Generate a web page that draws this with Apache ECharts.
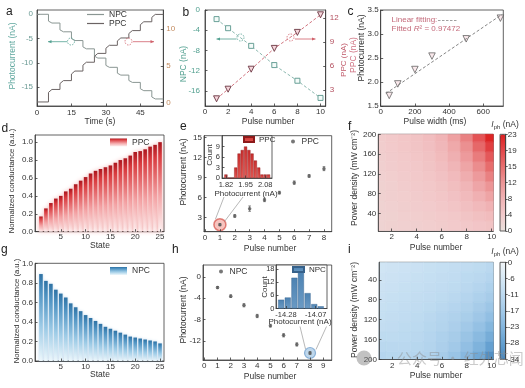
<!DOCTYPE html>
<html><head><meta charset="utf-8">
<script src="https://cdn.jsdelivr.net/npm/echarts@6/dist/echarts.min.js"></script>
<style>html,body{margin:0;padding:0;background:#fff}#c{width:525px;height:388px}</style>
</head><body><div id="c"></div>
<script>
// ================= DATA =================
// (a) time traces
const aTime = [0,5, 5,6.5,10, 10,11.5,15, 15,16.5,20, 20,21.5,25, 25,26.5,30, 30,31.5,35, 35,36.5,40, 40,41.5,45, 45,46.5,50, 50,51.5,55];
const aNPC  = [0,0, -1.4,-1.8,-1.8, -3.2,-3.6,-3.6, -5.0,-5.4,-5.4, -6.7,-7.1,-7.1, -8.6,-9.0,-9.0, -10.5,-10.9,-10.9, -12.1,-12.5,-12.5, -13.6,-14.0,-14.0, -15.3,-15.7,-15.7, -17.0,-17.4,-17.4];
const aPPC  = [0.1,0.1, 1.4,1.8,1.8, 2.6,3.0,3.0, 3.9,4.3,4.3, 5.1,5.5,5.5, 6.3,6.7,6.7, 7.4,7.8,7.8, 8.4,8.8,8.8, 9.4,9.8,9.8, 10.6,11.0,11.0, 11.6,12.0,12.0];
const aXTicks = [0,15,30,45];
const aYLTicks = [-15,-10,-5,0];
const aYRTicks = [0,5,10];
// (b)
const bPulse = [1,2,4,6,8,10];
const bNPC = [-1.8,-3.6,-7.1,-10.9,-14.0,-17.4];
const bPPC = [1.9,3.1,5.6,8.2,10.2,12.4];
const bXTicks = [0,2,4,6,8,10];
const bYLTicks = [-16,-12,-8,-4,0];
const bYRTicks = [3,6,9,12];
// (c)
const cWidth = [50,100,200,300,500,700];
const cPPC = [1.72,1.96,2.26,2.54,2.90,3.33];
const cFitX = [30,710];
const cFitY = [1.76,3.41];
const cXTicks = [0,200,400,600];
const cYTicks = [1.5,2.0,2.5,3.0,3.5];
// (d)/(g)
const dState = [1,2,3,4,5,6,7,8,9,10,11,12,13,14,15,16,17,18,19,20,21,22,23,24,25];
const dPPC = [0.17,0.26,0.32,0.37,0.40,0.45,0.48,0.53,0.57,0.61,0.65,0.68,0.70,0.72,0.74,0.77,0.80,0.82,0.85,0.89,0.90,0.92,0.95,0.97,1.00];
const gNPC = [0.89,0.82,0.79,0.73,0.69,0.65,0.59,0.55,0.51,0.47,0.44,0.41,0.38,0.35,0.33,0.31,0.29,0.27,0.25,0.24,0.23,0.22,0.21,0.20,0.18];
const dXTicks = [5,10,15,20,25];
const dYTicks = [0,0.2,0.4,0.6,0.8,1.0];
// (e)
const ePulse = [1,2,3,4,5,6,7,8];
const ePPC = [1.9,3.2,4.3,5.6,6.7,8.2,9.2,10.3];
const eErr = [0.15,0.2,0.4,0.25,0.2,0.25,0.2,0.3];
const eXTicks = [0,1,2,3,4,5,6,7,8];
const eYTicks = [3,6,9,12,15];
const eHistX = [1.820,1.842,1.863,1.885,1.907,1.928,1.950,1.972,1.993,2.015,2.037,2.058,2.080,2.102];
const eHistN = [1,0,0,3,7,8,9,8,7,5,3,1,1,1];
const eiXTicks = [1.82,1.95,2.08];
const eiYTicks = [0,3,6,9];
// (h)
const hPulse = [1,2,3,4,5,6,7,8];
const hNPC = [-2.0,-3.6,-5.3,-7.3,-9.1,-10.9,-12.6,-14.2];
const hErr = [0.2,0.25,0.3,0.3,0.25,0.3,0.3,0.25];
const hXTicks = [0,1,2,3,4,5,6,7,8,9];
const hYTicks = [-12,-8,-4,0];
const hHistX = [-14.314,-14.267,-14.220,-14.174,-14.127,-14.080,-14.034];
const hHistN = [4,5,14,17,7,2,1];
const hiXTicks = [-14.28,-14.07];
const hiYTicks = [0,6,12,18];
// (f)/(i) maps: rows = power density, columns = pulse number
const mapPulse = [1,2,3,4,5,6,7,8,9,10];
const mapPower = [15,35,55,75,95,115,135,155,175,195];
const fI = [
 [2.3,2.6,2.8,3.0,3.2,3.5,3.8,4.2,4.6,5.0],
 [2.4,2.7,3.0,3.2,3.5,3.8,4.2,4.8,5.5,6.2],
 [2.5,2.8,3.1,3.4,3.7,4.1,4.7,5.6,6.7,7.8],
 [2.6,2.9,3.2,3.6,4.0,4.5,5.3,6.5,8.0,9.6],
 [2.7,3.0,3.4,3.8,4.2,4.9,5.9,7.4,9.4,11.5],
 [2.8,3.2,3.6,4.0,4.5,5.3,6.5,8.4,10.8,13.5],
 [3.0,3.4,3.8,4.2,4.8,5.8,7.3,9.5,12.3,15.5],
 [3.1,3.6,4.0,4.5,5.2,6.4,8.2,10.8,14.0,17.5],
 [3.3,3.8,4.3,4.8,5.6,7.0,9.0,12.0,16.0,20.0],
 [3.5,4.0,4.5,5.0,6.0,7.5,10.0,13.5,18.0,22.5]
];
const iI = [
 [-7,-7.5,-8,-8.5,-9,-9.5,-10,-10.5,-11,-12],
 [-7.5,-8,-8.5,-9,-9.5,-10,-10.5,-11.5,-12,-13],
 [-8,-8.5,-9,-9.5,-10,-10.5,-11,-12,-13,-14.5],
 [-8.5,-9,-9.5,-10,-10.5,-11,-12,-13,-14.5,-16],
 [-9,-9.5,-10,-10.5,-11,-12,-13,-14,-16,-18],
 [-9.5,-10,-10.5,-11,-12,-13,-14,-15.5,-17.5,-20],
 [-10,-10.5,-11,-11.5,-12.5,-13.5,-15,-17,-19.5,-22.5],
 [-11,-11,-11.5,-12,-13,-14.5,-16,-18.5,-21.5,-25],
 [-12,-12,-12,-12.5,-13.5,-15,-17,-20,-23.5,-28],
 [-13,-12.5,-12.5,-13,-14,-16,-18.5,-22,-26,-32]
];
const mapXTicks = [2,4,6,8,10];
const mapYTicks = [40,80,120,160,200];
const fCbTicks = [0,3.83,7.67,11.5,15.33,19.17,23];
const iCbTicks = [0,-5.67,-11.33,-17,-22.67,-28.33,-34];

// ================= BUILD =================
const F = '"Liberation Sans", Arial, sans-serif';
const INK = '#333';
const TEAL = '#52a090';
const ROSE = '#c05a6a';
const grid = [], xAxis = [], yAxis = [], series = [], legend = [], visualMap = [], graphic = [];

function G(l,t,r,b,extra){
  grid.push(Object.assign({left:l, top:t, width:r-l, height:b-t, show:true, borderColor:'#3a3a3a', borderWidth:0.8,
    backgroundColor:'rgba(0,0,0,0)', containLabel:false, outerBoundsMode:'none'}, extra||{}));
  return grid.length-1;
}
function ax(gi,pos,min,max,ticks,o){
  o=o||{};
  return {gridIndex:gi, type:'value', position:pos, min, max, inverse:!!o.inverse, z:o.z||2,
    axisLine:{show:true, onZero:false, lineStyle:{color:'#3a3a3a', width:0.8}},
    axisTick:{show:true, inside:o.out?false:true, length:o.tl||2.5, customValues:ticks, lineStyle:{color:'#3a3a3a', width:0.8}},
    axisLabel:{show:true, customValues:ticks, margin:(o.margin!=null?o.margin:2), fontSize:o.fs||8, color:o.color||INK, fontFamily:F, formatter:o.fmt},
    splitLine:{show:false}, minorTick:{show:false}, minorSplitLine:{show:false}};
}
function X(gi,min,max,ticks,o){ xAxis.push(ax(gi,(o&&o.pos)||'bottom',min,max,ticks,o)); return xAxis.length-1; }
function Y(gi,min,max,ticks,o){ yAxis.push(ax(gi,(o&&o.pos)||'left',min,max,ticks,o)); return yAxis.length-1; }
function XH(gi){ xAxis.push({gridIndex:gi, type:'value', min:0, max:1, show:false}); return xAxis.length-1; }
function S(s){ series.push(Object.assign({animation:false, silent:true}, s)); return series.length-1; }
const pairs = (xs,ys)=>xs.map((x,i)=>[x,ys[i]]);
const nm = n=>n.split('_')[0];
function LG(o){ legend.push(Object.assign({orient:'vertical', padding:0, selectedMode:false, formatter:nm,
  textStyle:{fontSize:8.5, color:INK, fontFamily:F}}, o)); }

function T(x,y,text,o){ o=o||{};
  graphic.push({type:'text', x, y, rotation:o.rot||0, silent:true, z:50,
    style:{text, fontSize:o.fs||8.5, fontFamily:o.ff||F, fill:o.c||INK, align:o.align||'center', verticalAlign:o.va||'middle', fontStyle:o.st||'normal', rich:o.rich}});
}
function Ln(x1,y1,x2,y2,c,w,dash){ graphic.push({type:'line', silent:true, z:50, shape:{x1,y1,x2,y2}, style:{stroke:c, lineWidth:w||0.8, lineDash:dash||null}}); }
function arrow(x1,y,x2,c){ Ln(x1,y,x2,y,c,0.8); const d=x2>x1?1:-1;
  graphic.push({type:'polygon', silent:true, z:50, shape:{points:[[x2,y],[x2-d*3.5,y-1.6],[x2-d*3.5,y+1.6]]}, style:{fill:c}}); }
function dcirc(cx,cy,r,c){ graphic.push({type:'circle', silent:true, z:50, shape:{cx,cy,r}, style:{fill:'none', stroke:c, lineWidth:0.8, lineDash:[1.5,1.2]}}); }

function errItem(params, api){
  const x=api.value(0), y=api.value(1), e=api.value(2);
  const p1=api.coord([x,y+e]), p2=api.coord([x,y-e]);
  const st={stroke:'#555', lineWidth:0.7};
  return {type:'group', children:[
    {type:'line', shape:{x1:p1[0],y1:p1[1],x2:p2[0],y2:p2[1]}, style:st},
    {type:'line', shape:{x1:p1[0]-1.3,y1:p1[1],x2:p1[0]+1.3,y2:p1[1]}, style:st},
    {type:'line', shape:{x1:p2[0]-1.3,y1:p2[1],x2:p2[0]+1.3,y2:p2[1]}, style:st}]};
}
function heatItem(params, api){
  const x=api.value(0), y=api.value(1);
  const a=api.coord([x-0.5,y-10]), b=api.coord([x+0.5,y+10]);
  const cs=params.coordSys;
  const r=echarts.graphic.clipRectByRect(
    {x:Math.min(a[0],b[0]), y:Math.min(a[1],b[1]), width:Math.abs(b[0]-a[0]), height:Math.abs(b[1]-a[1])},
    {x:cs.x, y:cs.y, width:cs.width, height:cs.height});
  if(!r) return null;
  const c=api.visual('color');
  return {type:'rect', shape:r, style:{fill:c, stroke:c, lineWidth:0.6}};
}
function mapData(M){ const out=[]; mapPower.forEach((p,r)=>mapPulse.forEach((q,c)=>out.push([q,p,M[r][c]]))); return out; }
const lin = (stops)=>({type:'linear', x:0, y:0, x2:0, y2:1, colorStops:stops});

// ---- (a)
const gA=G(37,10,163.3,106);
const xA=X(gA,0,55,aXTicks,{margin:3});
const yAL=Y(gA,-18.85,0.88,aYLTicks,{color:'#6a9a94', margin:4});
const yAR=Y(gA,-0.45,12.6,aYRTicks,{pos:'right', color:'#c28a5e', margin:3});
S({type:'line', name:'NPC_a', xAxisIndex:xA, yAxisIndex:yAL, data:pairs(aTime,aNPC), symbol:'none', color:'#8a9693', lineStyle:{color:'#8a9693', width:1}});
S({type:'line', name:'PPC_a', xAxisIndex:xA, yAxisIndex:yAR, data:pairs(aTime,aPPC), symbol:'none', color:'#6b6363', lineStyle:{color:'#6b6363', width:1}});
LG({data:['NPC_a','PPC_a'], left:87, top:10, itemWidth:17, itemHeight:1.2, itemGap:0, icon:'rect'});
// ---- (b)
const gB=G(205,10,325.7,106);
const xB=X(gB,0,10.45,bXTicks);
const yBL=Y(gB,-19,0,bYLTicks,{color:TEAL, margin:5});
const yBR=Y(gB,1,13,bYRTicks,{pos:'right', color:'#b24c5c', margin:4});
S({type:'line', name:'NPC_b', xAxisIndex:xB, yAxisIndex:yBL, data:pairs(bPulse,bNPC), symbol:'rect', symbolSize:5,
  lineStyle:{color:'#7fb0a6', width:0.9, type:[3,2]}, itemStyle:{color:'#f4fbf9', borderColor:'#5a968c', borderWidth:0.9}});
S({type:'line', name:'PPC_b', xAxisIndex:xB, yAxisIndex:yBR, data:pairs(bPulse,bPPC), symbol:'triangle', symbolRotate:180, symbolSize:6,
  lineStyle:{color:'#cc6470', width:0.9, type:[3,2]}, itemStyle:{color:'#f6d6dc', borderColor:'#6a3440', borderWidth:0.9}});
// ---- (c)
const gC=G(380.7,10,503.3,106);
const xC=X(gC,0,717,cXTicks);
const yC=Y(gC,1.5,3.5,cYTicks,{fmt:v=>v.toFixed(1)});
S({type:'line', name:'fit_c', xAxisIndex:xC, yAxisIndex:yC, data:pairs(cFitX,cFitY), symbol:'none', lineStyle:{color:'#777', width:0.9, type:[3,2]}});
S({type:'scatter', name:'PPC_c', xAxisIndex:xC, yAxisIndex:yC, data:pairs(cWidth,cPPC), symbol:'triangle', symbolRotate:180, symbolSize:6.5,
  itemStyle:{color:'#f7e2e6', borderColor:'#555', borderWidth:0.9}});
// ---- (d)
const gD=G(35,135,164,231.7);
const xD=X(gD,-0.2,25.8,dXTicks,{margin:1.5});
const yD=Y(gD,0,1.08,dYTicks,{fmt:v=>v.toFixed(1)});
S({type:'bar', name:'PPC_d', xAxisIndex:xD, yAxisIndex:yD, data:pairs(dState,dPPC), barWidth:3.6,
  itemStyle:{color:lin([{offset:0,color:'#a8141c'},{offset:0.15,color:'#d83a3e'},{offset:0.6,color:'#f4a6a8'},{offset:1,color:'#fdf1f1'}]),
    shadowBlur:4, shadowColor:'rgba(225,70,70,0.45)'}});
LG({data:['PPC_d'], left:110, top:138, itemWidth:17, itemHeight:8, icon:'rect'});
// ---- (g)
const gGr=G(35,263.3,164,361);
const xG=X(gGr,-0.2,25.8,dXTicks,{margin:1.5});
const yG=Y(gGr,0,1.0,dYTicks,{fmt:v=>v.toFixed(1)});
S({type:'bar', name:'NPC_g', xAxisIndex:xG, yAxisIndex:yG, data:pairs(dState,gNPC), barWidth:3.6,
  itemStyle:{color:lin([{offset:0,color:'#2e72a4'},{offset:0.2,color:'#4f93c2'},{offset:0.6,color:'#9dcbe6'},{offset:1,color:'#eef8fc'}]),
    shadowBlur:3, shadowColor:'rgba(70,140,200,0.35)'}});
LG({data:['NPC_g'], left:110, top:266.5, itemWidth:17, itemHeight:8, icon:'rect'});
// ---- (e)
const gE=G(204,135.7,331.7,231.7);
const xE=X(gE,-0.07,8.52,eXTicks);
const yE=Y(gE,0.84,15.24,eYTicks);
S({type:'scatter', name:'circ_e', xAxisIndex:xE, yAxisIndex:yE, data:[[ePulse[0],ePPC[0]]], symbol:'circle', symbolSize:12, z:1,
  itemStyle:{color:'rgba(236,120,110,0.55)', borderColor:'rgba(205,55,45,0.75)', borderWidth:1.5}});
S({type:'custom', name:'err_e', xAxisIndex:xE, yAxisIndex:yE, data:ePulse.map((x,i)=>[x,ePPC[i],eErr[i]]), renderItem:errItem, z:2});
S({type:'scatter', name:'PPC_e', xAxisIndex:xE, yAxisIndex:yE, data:pairs(ePulse,ePPC), symbol:'circle', symbolSize:3.5, z:3, itemStyle:{color:'#555'}});
LG({data:['PPC_e'], left:291, top:137, itemWidth:7, itemHeight:4});
// inset (e)
const gEi=G(222,135.7,272,178,{backgroundColor:'#fff', z:3});
const xEi=X(gEi,1.794,2.125,eiXTicks,{fmt:v=>v.toFixed(2), fs:7.5, margin:3, z:4});
const yEi=Y(gEi,0,12.1,eiYTicks,{fs:7.5, margin:2, z:4});
S({type:'bar', name:'PPC_ei', xAxisIndex:xEi, yAxisIndex:yEi, data:pairs(eHistX,eHistN), barWidth:3.1, z:4,
  itemStyle:{color:lin([{offset:0,color:'#c92e2e'},{offset:1,color:'#e55a55'}]), borderColor:'#8c1a1a', borderWidth:0.4}});
LG({data:['PPC_ei'], left:243, top:135.5, itemWidth:10, itemHeight:5, icon:'rect', textStyle:{fontSize:8, color:INK, fontFamily:F}, z:6});
// ---- (h)
const gH=G(203,265,331.7,360);
const xH=X(gH,-0.1,9.64,hXTicks);
const yH=Y(gH,-15.5,2.2,hYTicks);
S({type:'scatter', name:'circ_h', xAxisIndex:xH, yAxisIndex:yH, data:[[hPulse[7],hNPC[7]]], symbol:'circle', symbolSize:11, z:1,
  itemStyle:{color:'rgba(120,172,215,0.6)', borderColor:'rgba(70,130,190,0.7)', borderWidth:1.2}});
S({type:'custom', name:'err_h', xAxisIndex:xH, yAxisIndex:yH, data:hPulse.map((x,i)=>[x,hNPC[i],hErr[i]]), renderItem:errItem, z:2});
S({type:'scatter', name:'NPC_h', xAxisIndex:xH, yAxisIndex:yH, data:pairs(hPulse,hNPC), symbol:'circle', symbolSize:3.5, z:3, itemStyle:{color:'#555'}});
LG({data:['NPC_h'], left:219, top:267, itemWidth:7, itemHeight:4});
// inset (h)
const gHi=G(276,265,327,308.5,{backgroundColor:'#fff', z:3});
const xHi=X(gHi,-14.35,-13.99,hiXTicks,{fmt:v=>v.toFixed(2), fs:7.5, margin:2, z:4});
const yHi=Y(gHi,0,19.8,hiYTicks,{fs:7.5, margin:1.5, z:4});
S({type:'bar', name:'NPC_hi', xAxisIndex:xHi, yAxisIndex:yHi, data:pairs(hHistX,hHistN), barWidth:6, z:4,
  itemStyle:{color:lin([{offset:0,color:'#4c82b2'},{offset:1,color:'#6a9ac4'}]), borderColor:'#36618a', borderWidth:0.4}});
LG({data:['NPC_hi'], left:292, top:265.5, itemWidth:11, itemHeight:5, icon:'rect', textStyle:{fontSize:8, color:INK, fontFamily:F}, z:6});
// ---- (f)
const gF=G(378.3,134.3,493.3,231);
const xF=X(gF,0.93,10.13,mapXTicks);
const yF=Y(gF,4.6,200,mapYTicks);
const sF=S({type:'custom', name:'map_f', xAxisIndex:xF, yAxisIndex:yF, data:mapData(fI), renderItem:heatItem, encode:{x:0,y:1}, z:1});
const gFc=G(500,134.3,505.7,231,{z:6});
XH(gFc);
Y(gFc,0,23,fCbTicks,{pos:'right', out:true, tl:2, margin:2, fmt:v=>String(Math.round(v)), z:6});
visualMap.push({type:'continuous', seriesIndex:sF, dimension:2, min:0, max:23, orient:'vertical', left:500, top:134.3,
  itemWidth:5.7, itemHeight:96.7, calculable:false, padding:0, hoverLink:false,
  inRange:{color:['#e9e0dc','#f2cacb','#f0b3b5','#ec9596','#e76f6f','#e2474a','#dc2020']}});
// ---- (i)
const gI=G(379,262.3,493.3,359.3);
const xI=X(gI,0.93,10.13,mapXTicks);
const yI=Y(gI,4.6,200,mapYTicks,{inverse:true});
const sI=S({type:'custom', name:'map_i', xAxisIndex:xI, yAxisIndex:yI, data:mapData(iI), renderItem:heatItem, encode:{x:0,y:1}, z:1});
const gIc=G(500,262.3,505.7,359.3,{z:6});
XH(gIc);
Y(gIc,-34,0,iCbTicks,{pos:'right', out:true, tl:2, margin:2, fmt:v=>String(Math.round(v)), z:6});
visualMap.push({type:'continuous', seriesIndex:sI, dimension:2, min:-34, max:0, orient:'vertical', left:500, top:262.3,
  itemWidth:5.7, itemHeight:97, calculable:false, padding:0, hoverLink:false,
  inRange:{color:['#4a88bd','#64a0d0','#84b6de','#a2c9e8','#bddaf0','#d6e8f5','#f1f5f8']}});

// ================= TEXT / ANNOTATIONS =================
const letters=[['a',6,11.5],['b',182.5,12.5],['c',347.5,12],['d',1.5,128.5],['e',180,127],['f',348,127],['g',1,250],['h',172,250],['i',348,250]];
letters.forEach(l=>T(l[1],l[2],l[0],{fs:12, align:'left', c:'#222'}));
const R=Math.PI/2;
// a
T(13,56,'Photocurrent (nA)',{rot:R, c:'#62a9a0'});
T(100,122,'Time (s)');
dcirc(71,41.5,3.5,TEAL); arrow(67,41.7,48,TEAL);
dcirc(128.5,41.5,3.5,'#d0606a'); arrow(133,41.7,154,'#d0606a');
// b
T(183.5,64,'NPC (nA)',{rot:R, c:TEAL});
T(343.5,60,'PPC (nA)',{rot:R, c:ROSE, fs:8});
T(268,122,'Pulse number');
dcirc(240.5,37.5,3.5,TEAL); arrow(236.5,39,216.5,TEAL);
dcirc(290.5,37.5,3.5,'#d0606a'); arrow(295,39,315.5,'#d0606a');
// c
T(353.5,55,'PPC (nA)',{rot:R, c:'#d07484'});
T(361.5,48,'Photocurrent (nA)',{rot:R});
T(435,122,'Pulse width (ms)');
T(391.5,20,'Linear fitting:',{fs:8, align:'left', c:'#c46a7a'});
Ln(438,20.5,458,20.5,'#888',0.8,[2.5,1.5]);
T(391.5,28.5,'{n|Fitted }{i|R}{n|² = 0.97472}',{fs:8, align:'left', c:'#c46a7a',
  rich:{n:{fontSize:8, fontFamily:F, fill:'#c46a7a'}, i:{fontSize:8, fontFamily:F, fontStyle:'italic', fill:'#c46a7a'}}});
// d, g
T(12,181,'Normalized conductance (a.u.)',{rot:R, fs:7.7});
T(100,245.5,'State');
T(16.5,311,'Normalized conductance (a.u.)',{rot:R, fs:7.7});
T(100,374.5,'State');
// e
T(183.5,172,'Photocurrent (nA)',{rot:R});
T(270,248.5,'Pulse number');
T(209.5,155,'Count',{rot:R, fs:8});
T(246,193.5,'Photocurrent (nA)',{fs:8});
Ln(215.5,219,224,197,'#888',0.6); Ln(224.5,221.5,243,197,'#888',0.6);
// h
T(183.5,310,'Photocurrent (nA)',{rot:R});
T(270,377,'Pulse number');
T(264.5,287,'Count',{rot:R, fs:8});
T(300,322,'Photocurrent (nA)',{fs:8});
Ln(305.5,349,300,326.5,'#888',0.6); Ln(316,349.5,326.5,326.5,'#888',0.6);
// f, i
T(355,178,'Power density (mW cm⁻²)',{rot:R});
T(436,248,'Pulse number');
T(355,310,'Power density (mW cm⁻²)',{rot:R});
T(436,375.5,'Pulse number');
const iph={i:{fontSize:8.5, fontFamily:F, fontStyle:'italic', fill:INK}, s:{fontSize:6, fontFamily:F, fill:INK, padding:[5,0,0,0]}, n:{fontSize:8.5, fontFamily:F, fill:INK}};
T(505,125,'{i|I}{s|ph}{n| (nA)}',{rich:iph});
T(505,252,'{i|I}{s|ph}{n| (nA)}',{rich:iph});
// watermark
graphic.push({type:'circle', silent:true, z:60, shape:{cx:364, cy:358, r:7.5}, style:{fill:'rgba(120,120,120,0.45)'}});
T(397,358,'公众号 · 红外芯闻',{fs:15, ff:'"Noto Sans CJK SC", sans-serif', align:'left', c:'rgba(140,140,140,0.45)'});

const chart=echarts.init(document.getElementById('c'),null,{renderer:'canvas', width:525, height:388});
chart.setOption({animation:false, backgroundColor:'#fff', textStyle:{fontFamily:F},
  grid, xAxis, yAxis, series, legend, visualMap, graphic:{elements:graphic}});
</script></body></html>
